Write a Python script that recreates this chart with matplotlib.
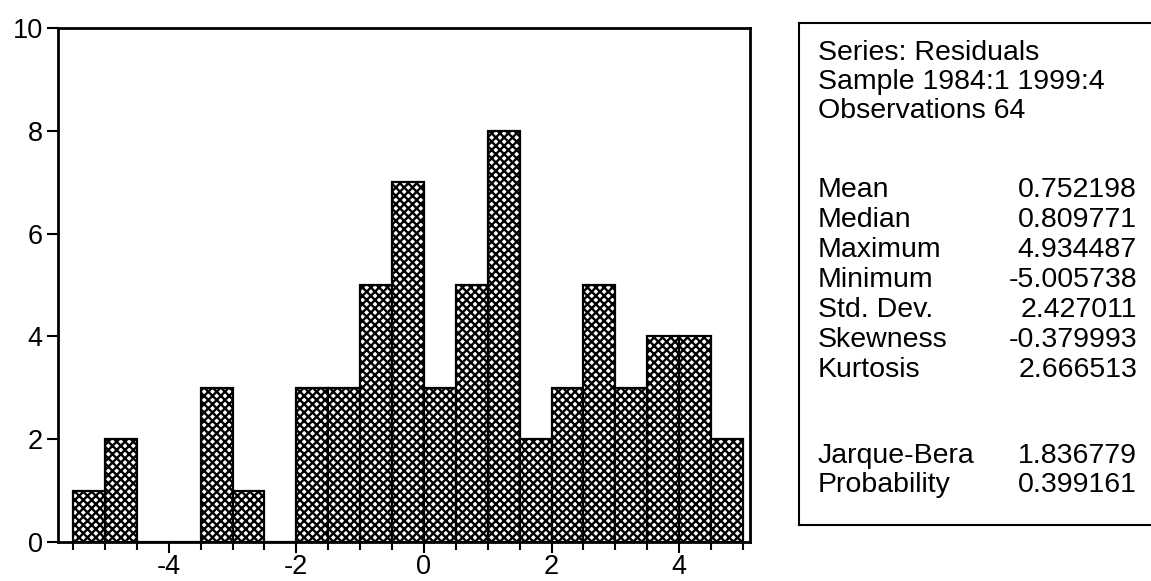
import matplotlib
matplotlib.use("Agg")
import matplotlib.pyplot as plt
import numpy as np

plt.rcParams['font.family'] = ['Liberation Sans', 'DejaVu Sans']
plt.rcParams['hatch.linewidth'] = 1.7
plt.rcParams['axes.unicode_minus'] = False

# histogram of residuals, bins of width 0.5 starting at -5.5
bin_start = -5.5
bin_width = 0.5
counts = [1, 2, 0, 0, 3, 1, 0, 3, 3, 5, 7, 3, 5, 8, 2, 3, 5, 3, 4, 4, 2]

header_lines = ["Series: Residuals", "Sample 1984:1 1999:4", "Observations 64"]
stat_names = ["Mean", "Median", "Maximum", "Minimum", "Std. Dev.",
              "Skewness", "Kurtosis", "Jarque-Bera", "Probability"]
stat_values = ["0.752198", "0.809771", "4.934487", "-5.005738", "2.427011",
               "-0.379993", "2.666513", "1.836779", "0.399161"]

W, H = 1151, 581
fig = plt.figure(figsize=(W / 100, H / 100), dpi=100)

ax = fig.add_axes([58 / W, 1 - 542 / H, (750 - 58) / W, (542 - 28) / H])
edges = bin_start + bin_width * np.arange(len(counts))
ax.bar(edges, counts, width=bin_width, align='edge', facecolor='white',
       edgecolor='black', linewidth=1.6, hatch='xxxx')

ax.set_xlim(-5.735, 5.11)
ax.set_ylim(0, 10)
ax.set_xticks([-4, -2, 0, 2, 4])
ax.set_xticks(bin_start + bin_width * np.arange(len(counts) + 1), minor=True)
ax.set_yticks([0, 2, 4, 6, 8, 10])
ax.tick_params(axis='both', which='major', labelsize=19.5, width=1.5,
               length=8, color='black', direction='out', pad=3)
ax.tick_params(axis='x', which='major', pad=1)
ax.tick_params(axis='x', which='minor', length=6, width=1.5)
for s in ax.spines.values():
    s.set_linewidth(2)

# statistics box on the right
box = fig.add_axes([799 / W, 1 - 525 / H, 1.05 - 799 / W, (525 - 23) / H])
box.set_xticks([])
box.set_yticks([])
box.spines['right'].set_visible(False)
for s in box.spines.values():
    s.set_linewidth(1.5)

header_y = [53, 82, 111]
stat_y = [190, 220, 250, 280, 310, 340, 370, 456, 485]
x_left = 818 / W
x_right = 1137 / W
fs = 20.5
for txt, y in zip(header_lines, header_y):
    fig.text(x_left, 1 - y / H, txt, fontsize=fs, va='center', ha='left')
for name, val, y in zip(stat_names, stat_values, stat_y):
    fig.text(x_left, 1 - y / H, name, fontsize=fs, va='center', ha='left')
    fig.text(x_right, 1 - y / H, val, fontsize=fs, va='center', ha='right')

fig.savefig("out.png", dpi=100)
